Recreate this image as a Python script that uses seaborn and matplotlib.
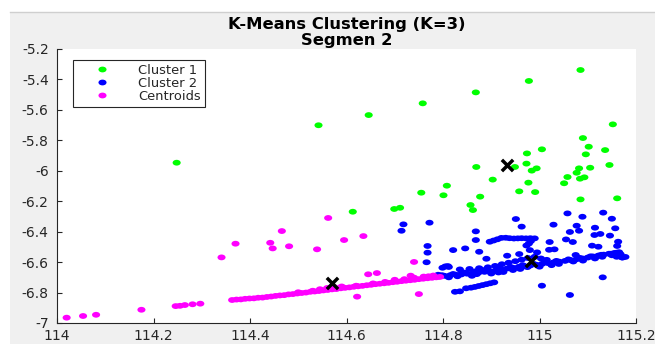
import matplotlib
matplotlib.use("Agg")
import matplotlib.pyplot as plt
import numpy as np
import pandas as pd
import seaborn as sns
from matplotlib.path import Path
from matplotlib.transforms import Affine2D
from matplotlib.patches import Rectangle
from matplotlib.lines import Line2D

# ---------------- data ----------------
title_text = "K-Means Clustering (K=3)\nSegmen 2"
legend_labels = ["Cluster 1", "Cluster 2", "Centroids"]
legend_colors = ["#00ff00", "#0000ff", "#ff00ff"]

x_ticks = [114.0, 114.2, 114.4, 114.6, 114.8, 115.0, 115.2]
x_tick_labels = ["114", "114.2", "114.4", "114.6", "114.8", "115", "115.2"]
y_ticks = [-7.0, -6.8, -6.6, -6.4, -6.2, -6.0, -5.8, -5.6, -5.4, -5.2]
y_tick_labels = ["-7", "-6.8", "-6.6", "-6.4", "-6.2", "-6", "-5.8", "-5.6", "-5.4", "-5.2"]

# Cluster 1 (green)
c1_x = [114.248, 114.542, 114.646, 114.758, 114.868, 114.978, 115.085, 115.152,
        115.090, 115.102, 115.136, 115.096, 115.145, 115.105, 115.082, 115.077,
        115.093, 115.084, 115.058, 115.005, 114.974, 114.973, 114.994, 114.984,
        114.949, 114.869, 114.903, 114.808, 114.755, 114.801, 114.877, 114.977,
        115.051, 114.958, 114.991, 114.857, 114.862, 115.085, 115.161, 114.711,
        114.699, 114.613]
c1_y = [-5.947, -5.701, -5.634, -5.557, -5.485, -5.410, -5.338, -5.695,
        -5.785, -5.842, -5.864, -5.892, -5.962, -5.980, -5.984, -6.013,
        -6.043, -6.052, -6.041, -5.859, -5.886, -5.953, -5.984, -5.999,
        -5.975, -5.975, -6.058, -6.098, -6.144, -6.161, -6.170, -6.078,
        -6.082, -6.135, -6.140, -6.225, -6.258, -6.188, -6.181, -6.243,
        -6.251, -6.269]

# Cluster 2 (blue): scattered points
c2s_x = [114.718, 114.714, 114.772, 114.768, 114.768, 114.766, 114.821, 114.846,
         114.868, 114.868, 114.875, 114.890, 114.951, 114.963, 114.933, 114.958,
         114.980, 114.995, 114.973, 115.021, 115.020, 115.031, 115.029, 115.055,
         115.069, 115.058, 115.089, 115.077, 115.063, 115.082, 115.075, 115.132,
         115.150, 115.115, 115.157, 115.114, 115.126, 115.146, 115.109, 115.122,
         115.163, 115.161, 115.131, 115.005, 115.063, 115.171, 115.160, 114.810,
         114.799]
c2s_y = [-6.352, -6.394, -6.341, -6.494, -6.538, -6.601, -6.521, -6.510,
         -6.398, -6.455, -6.532, -6.578, -6.317, -6.367, -6.558, -6.547,
         -6.521, -6.536, -6.491, -6.468, -6.519, -6.516, -6.354, -6.451,
         -6.468, -6.280, -6.302, -6.361, -6.402, -6.394, -6.553, -6.275,
         -6.315, -6.374, -6.378, -6.422, -6.415, -6.426, -6.492, -6.499,
         -6.466, -6.494, -6.700, -6.755, -6.816, -6.569, -6.538, -6.626,
         -6.637]
# Cluster 2: upper short track
c2u_x = [114.897, 114.905, 114.913, 114.921, 114.930, 114.938, 114.947, 114.955,
         114.963, 114.972, 114.981, 114.990, 114.982, 114.978]
c2u_y = [-6.466, -6.458, -6.450, -6.441, -6.440, -6.443, -6.445, -6.444,
         -6.443, -6.444, -6.443, -6.444, -6.462, -6.478]
# Cluster 2: lower short track
c2l_x = [114.825, 114.835, 114.848, 114.858, 114.866, 114.874, 114.882, 114.890,
         114.898, 114.906]
c2l_y = [-6.795, -6.792, -6.772, -6.768, -6.763, -6.757, -6.751, -6.745,
         -6.739, -6.733]
# Cluster 2: main band (two tracks + spread)
c2b_x = [114.780, 114.792, 114.803, 114.815, 114.827, 114.838, 114.850, 114.862,
         114.874, 114.886, 114.897, 114.909, 114.921, 114.933, 114.945, 114.957,
         114.969, 114.981, 114.993, 115.005, 115.017, 115.029, 115.041, 115.053,
         115.065, 115.077, 115.089, 115.100, 115.111, 115.122, 115.133, 115.144,
         115.155, 115.165,
         114.790, 114.812, 114.840, 114.860, 114.880, 114.900, 114.925, 114.960,
         115.000, 115.040, 115.090, 115.130, 115.150, 115.160, 115.172, 115.178,
         114.805, 114.812, 114.835, 114.855, 114.875, 114.893, 114.908, 114.922,
         114.936, 114.950, 114.963, 114.976, 114.990, 115.003, 115.015,
         114.786, 114.798, 114.821, 114.845, 114.868, 114.891, 114.915, 114.940,
         114.965, 114.987, 115.011, 115.035, 115.060, 115.083, 115.106, 115.128,
         115.148, 115.168, 114.830, 114.870, 114.915, 114.945, 114.975, 115.025,
         115.070, 115.115]
c2b_y = [-6.699, -6.694, -6.690, -6.686, -6.683, -6.681, -6.676, -6.673,
         -6.668, -6.664, -6.660, -6.655, -6.648, -6.642, -6.637, -6.631,
         -6.627, -6.622, -6.617, -6.612, -6.606, -6.602, -6.597, -6.592,
         -6.587, -6.581, -6.576, -6.570, -6.563, -6.557, -6.551, -6.545,
         -6.540, -6.535,
         -6.683, -6.700, -6.668, -6.690, -6.650, -6.675, -6.665, -6.645,
         -6.630, -6.612, -6.590, -6.565, -6.555, -6.565, -6.570, -6.566,
         -6.628, -6.632, -6.648, -6.645, -6.640, -6.634, -6.625, -6.614,
         -6.604, -6.594, -6.584, -6.573, -6.565, -6.576, -6.585,
         -6.690, -6.686, -6.678, -6.669, -6.660, -6.652, -6.642, -6.632,
         -6.620, -6.611, -6.600, -6.592, -6.582, -6.572, -6.562, -6.552,
         -6.545, -6.548, -6.693, -6.679, -6.668, -6.652, -6.633, -6.620,
         -6.596, -6.576]

# Cluster 3 (magenta, labelled "Centroids" in the original legend): scattered
c3s_x = [114.020, 114.054, 114.081, 114.175, 114.246, 114.255, 114.265, 114.281,
         114.297, 114.341, 114.370, 114.442, 114.447, 114.466, 114.481, 114.539,
         114.562, 114.595, 114.635, 114.740, 114.645, 114.663, 114.733, 114.622,
         114.750]
c3s_y = [-6.965, -6.954, -6.946, -6.913, -6.889, -6.887, -6.882, -6.877,
         -6.873, -6.569, -6.479, -6.473, -6.510, -6.396, -6.496, -6.516,
         -6.310, -6.455, -6.429, -6.599, -6.680, -6.672, -6.689, -6.827,
         -6.810]
# Cluster 3: dense track
c3b_x = [114.363, 114.372, 114.381, 114.390, 114.399, 114.408, 114.417, 114.426,
         114.435, 114.444, 114.453, 114.462, 114.471, 114.480, 114.489, 114.498,
         114.507, 114.516, 114.525, 114.534, 114.543, 114.552, 114.561, 114.570,
         114.579, 114.588, 114.597, 114.606, 114.615, 114.624, 114.633, 114.642,
         114.651, 114.660, 114.669, 114.678, 114.687, 114.696, 114.705, 114.714,
         114.723, 114.732, 114.741, 114.750, 114.759, 114.768, 114.777, 114.786,
         114.794,
         114.560, 114.575, 114.545, 114.590, 114.700, 114.720, 114.740, 114.760,
         114.780, 114.500, 114.530, 114.620, 114.655, 114.680, 114.770]
c3b_y = [-6.849, -6.846, -6.845, -6.841, -6.839, -6.838, -6.834, -6.833,
         -6.829, -6.826, -6.822, -6.819, -6.817, -6.812, -6.810, -6.806,
         -6.803, -6.800, -6.795, -6.793, -6.790, -6.786, -6.783, -6.779,
         -6.777, -6.772, -6.769, -6.766, -6.762, -6.759, -6.756, -6.752,
         -6.749, -6.745, -6.742, -6.739, -6.736, -6.732, -6.729, -6.725,
         -6.722, -6.719, -6.716, -6.712, -6.709, -6.706, -6.703, -6.700,
         -6.697,
         -6.770, -6.765, -6.778, -6.760, -6.716, -6.712, -6.702, -6.695,
         -6.688, -6.798, -6.788, -6.755, -6.740, -6.730, -6.693]

# Centroids (black crosses)
cent_x = [114.932, 114.982, 114.570]
cent_y = [-5.962, -6.591, -6.740]

# ---------------- build table ----------------
c2_x = c2s_x + c2u_x + c2l_x + c2b_x
c2_y = c2s_y + c2u_y + c2l_y + c2b_y
c3_x = c3s_x + c3b_x
c3_y = c3s_y + c3b_y
df = pd.DataFrame({
    "x": c1_x + c2_x + c3_x,
    "y": c1_y + c2_y + c3_y,
    "cluster": [legend_labels[0]] * len(c1_x) + [legend_labels[1]] * len(c2_x)
               + [legend_labels[2]] * len(c3_x),
})
df_cent = pd.DataFrame({"x": cent_x, "y": cent_y})

# ---------------- figure ----------------
W, H = 655, 344
fig = plt.figure(figsize=(W / 100, H / 100), dpi=100, facecolor="white")
fig.patches.append(Rectangle((10 / W, 0), 1, 1 - 12 / H, transform=fig.transFigure,
                             facecolor="#f0f0f0", edgecolor="none", zorder=-10))
fig.lines.append(Line2D([10 / W, 1], [1 - 11.5 / H] * 2, transform=fig.transFigure,
                        color="#cfcfcf", lw=1))
ax = fig.add_axes([57 / W, 21 / H, 579 / W, 274 / H])
ax.set_facecolor("white")

ell = Path.unit_circle().transformed(Affine2D().scale(1.4, 1.0))

sns.scatterplot(data=df, x="x", y="y", hue="cluster", hue_order=legend_labels,
                palette=legend_colors, marker=ell, s=34, linewidth=0, ax=ax)
sns.scatterplot(data=df_cent, x="x", y="y", color="black", marker="x", s=66,
                linewidth=2.5, ax=ax, legend=False, zorder=5)

ax.set_xlim(114.0, 115.2)
ax.set_ylim(-7.0, -5.2)
ax.set_xticks(x_ticks)
ax.set_xticklabels(x_tick_labels)
ax.set_yticks(y_ticks)
ax.set_yticklabels(y_tick_labels)
ax.set_xlabel("")
ax.set_ylabel("")

for side in ["top", "right"]:
    ax.spines[side].set_visible(False)
for side in ["left", "bottom"]:
    ax.spines[side].set_color("#262626")
    ax.spines[side].set_linewidth(0.8)
ax.tick_params(axis="both", direction="in", length=3.5, width=0.8,
               colors="#262626", labelsize=10)
ax.tick_params(axis="y", pad=6)
ax.tick_params(axis="x", pad=4.5)

ax.set_title(title_text, fontsize=11.8, fontweight="bold", color="black",
             pad=3, linespacing=1.08)

handles, labels = ax.get_legend_handles_labels()
leg = ax.legend(handles, labels, loc="upper left", bbox_to_anchor=(0.0276, 0.960),
                borderaxespad=0, frameon=True, fancybox=False, framealpha=1,
                edgecolor="#262626", fontsize=9.4, handlelength=3.9,
                handletextpad=0.8, labelspacing=0.0, borderpad=0.3,
                markerscale=1.0)
leg.get_frame().set_linewidth(0.8)
for t in leg.get_texts():
    t.set_color("#262626")

fig.savefig("out.png", dpi=100, facecolor=fig.get_facecolor())
